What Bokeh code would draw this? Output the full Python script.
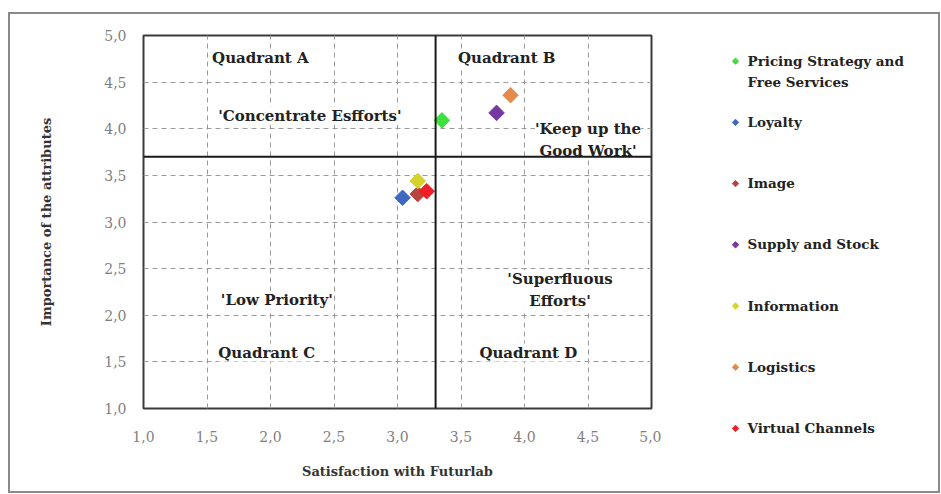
from bokeh.plotting import figure
from bokeh.layouts import row
from bokeh.models import Span, FixedTicker, ColumnDataSource, Range1d
from bokeh.embed import file_html
from bokeh.resources import INLINE
from bokeh.core.properties import value

# ---- data ----
attributes = ["Pricing Strategy and\nFree Services", "Loyalty", "Image", "Supply and Stock",
              "Information", "Logistics", "Virtual Channels"]
satisfaction = [3.35, 3.04, 3.16, 3.78, 3.16, 3.89, 3.23]
importance = [4.09, 3.26, 3.30, 4.17, 3.44, 4.36, 3.33]
colors = ["#3de03d", "#3f68c4", "#b8433f", "#7638a0", "#d6d22e", "#e38a4c", "#f01e24"]

mean_satisfaction = 3.30
mean_importance = 3.70

tick_values = [1.0, 1.5, 2.0, 2.5, 3.0, 3.5, 4.0, 4.5, 5.0]
tick_labels = ["1,0", "1,5", "2,0", "2,5", "3,0", "3,5", "4,0", "4,5", "5,0"]

quad_texts = ["Quadrant A", "'Concentrate Esfforts'", "Quadrant B", "'Keep up the\nGood Work'",
              "'Low Priority'", "Quadrant C", "'Superfluous\nEfforts'", "Quadrant D"]
quad_x = [1.92, 2.31, 3.86, 4.50, 2.05, 1.97, 4.28, 4.03]
quad_y = [4.76, 4.14, 4.76, 3.88, 2.16, 1.60, 2.27, 1.60]

# ---- main figure ----
H = 477
p = figure(width=651, height=H, x_range=(1, 5), y_range=(1, 5),
           output_backend="svg", toolbar_location=None,
           min_border_left=133, min_border_right=10, min_border_top=21, min_border_bottom=83)
p.frame_align = False
p.background_fill_color = "white"
p.border_fill_color = "white"
p.outline_line_color = "#3a3a3a"
p.outline_line_width = 2

overrides = {v: l for v, l in zip(tick_values, tick_labels)}
for ax in (p.xaxis[0], p.yaxis[0]):
    ax.ticker = FixedTicker(ticks=tick_values)
    ax.major_label_overrides = overrides
    ax.axis_line_color = None
    ax.major_tick_line_color = None
    ax.minor_tick_line_color = None
    ax.major_label_text_font = "DejaVu Serif"
    ax.major_label_text_font_size = "14px"
    ax.major_label_text_color = "#7f7f7f"
    ax.axis_label_text_font = "DejaVu Serif"
    ax.axis_label_text_font_style = "bold"
    ax.axis_label_text_font_size = "13px"
    ax.axis_label_text_color = "#333333"

p.xaxis.axis_label = "Satisfaction with Futurlab"
p.yaxis.axis_label = "Importance of the attributes"
p.xaxis.major_label_standoff = 16
p.xaxis.axis_label_standoff = 19
p.yaxis.major_label_standoff = 11
p.yaxis.axis_label_standoff = 47

for g in (p.xgrid[0], p.ygrid[0]):
    g.ticker = FixedTicker(ticks=tick_values)
    g.grid_line_color = "#9a9a9a"
    g.grid_line_dash = "5 4"
    g.grid_line_width = 1

p.add_layout(Span(location=mean_satisfaction, dimension="height", line_color="#1a1a1a", line_width=2))
p.add_layout(Span(location=mean_importance, dimension="width", line_color="#1a1a1a", line_width=2))

qsrc = ColumnDataSource(dict(x=quad_x, y=quad_y, t=quad_texts))
p.text(x="x", y="y", text="t", source=qsrc, text_align="center", text_baseline="middle",
       text_font=value("DejaVu Serif"), text_font_style="bold", text_font_size="15px",
       text_color="#222222", background_fill_color="white", text_line_height=1.2)

src = ColumnDataSource(dict(x=satisfaction, y=importance, c=colors, name=attributes))
p.scatter(x="x", y="y", source=src, marker="square", angle=0.785398, size=11,
          fill_color="c", line_color="c")

# ---- legend panel (separate figure, pixel coordinates) ----
LW = 277
leg = figure(width=LW, height=H, x_range=Range1d(0, LW), y_range=Range1d(H, 0),
             output_backend="svg", toolbar_location=None,
             x_axis_type=None, y_axis_type=None,
             min_border_left=0, min_border_right=0, min_border_top=0, min_border_bottom=0)
leg.frame_align = False
leg.grid.visible = False
leg.outline_line_color = None
leg.background_fill_color = "white"
leg.border_fill_color = "white"

first_row, row_step, marker_x, text_x = 46.7, 61.2, 74, 86
n = len(attributes)
lsrc = ColumnDataSource(dict(
    mx=[marker_x] * n,
    tx=[text_x] * n,
    y=[first_row + i * row_step for i in range(n)],
    ty=[first_row + i * row_step - 8.5 for i in range(n)],
    c=colors, t=attributes))
leg.scatter(x="mx", y="y", source=lsrc, marker="square", angle=0.785398, size=4.5,
            fill_color="c", line_color="c")
leg.text(x="tx", y="ty", text="t", source=lsrc, text_align="left", text_baseline="top",
         text_font=value("DejaVu Serif"), text_font_style="bold", text_font_size="13.5px",
         text_color="#222222", text_line_height=1.35)

layout = row(p, leg, styles={"border": "2px solid #8a8a8a", "margin-top": "12px",
                             "margin-left": "8px"})

open("out.html", "w").write(file_html(layout, INLINE))
